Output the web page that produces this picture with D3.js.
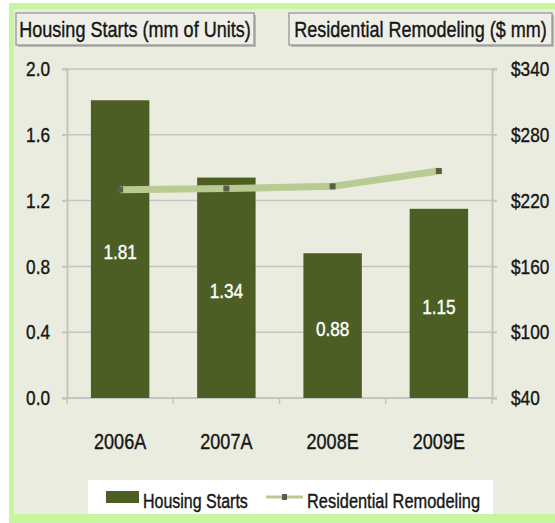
<!DOCTYPE html>
<html>
<head>
<meta charset="utf-8">
<script src="https://cdn.jsdelivr.net/npm/d3@7"></script>
<style>
  body { margin: 0; background: #ffffff; }
  text { font-family: "Liberation Sans", Arial, sans-serif; stroke-width: 0.4px; }
</style>
</head>
<body>
<div id="dataviz"></div>
<script>
// data
var years = ["2006A", "2007A", "2008E", "2009E"];
var housingStarts = [1.81, 1.34, 0.88, 1.15];
var remodeling = [230, 231, 233, 247];
var leftTicks = [0, 0.4, 0.8, 1.2, 1.6, 2.0];
var rightTicks = [40, 100, 160, 220, 280, 340];

var width = 555,
    height = 523;

// squeeze text horizontally, the original uses a narrow font
var squeeze = 0.82;
function narrow(sel) {
  sel.each(function() {
    var t = d3.select(this);
    var xx = +t.attr("x") || 0, yy = +t.attr("y") || 0;
    t.attr("x", 0).attr("y", 0)
     .attr("transform", "translate(" + xx + "," + yy + ") scale(" + squeeze + ",1)");
  });
}

var svg = d3.select("#dataviz")
  .append("svg")
  .attr("width", width)
  .attr("height", height);

// frame: lime border + pale panel
svg.append("rect").attr("x", 9).attr("y", 3).attr("width", width - 9).attr("height", height - 3)
  .attr("fill", "#c8f5a0");
svg.append("rect").attr("x", 14).attr("y", 9).attr("width", width - 14).attr("height", 505)
  .attr("fill", "#e9ecdf");

// plot area
var plotLeft = 67, plotRight = 492, plotTop = 69, plotBottom = 398;

var x = d3.scaleBand()
  .domain(years)
  .range([plotLeft, plotRight])
  .paddingInner(0.45)
  .paddingOuter(0.225);

var y = d3.scaleLinear().domain([0, 2]).range([plotBottom, plotTop]);
var y2 = d3.scaleLinear().domain([40, 340]).range([plotBottom, plotTop]);

var gridColor = "#c3c5c0";
var ink = "#161616";

// horizontal gridlines (one per left tick)
svg.selectAll(".grid")
  .data(leftTicks)
  .enter()
  .append("line")
    .attr("x1", plotLeft - 5)
    .attr("x2", plotRight + 5)
    .attr("y1", function(d) { return y(d); })
    .attr("y2", function(d) { return y(d); })
    .attr("stroke", gridColor)
    .attr("stroke-width", 1.5);

// left axis
var yAxis = svg.append("g")
  .attr("transform", "translate(" + plotLeft + ",0)")
  .call(d3.axisLeft(y).tickValues(leftTicks).tickFormat(d3.format(".1f")).tickSize(5).tickPadding(12));

// right axis
var y2Axis = svg.append("g")
  .attr("transform", "translate(" + plotRight + ",0)")
  .call(d3.axisRight(y2).tickValues(rightTicks).tickFormat(function(d) { return "$" + d; }).tickSize(5).tickPadding(14));

[yAxis, y2Axis].forEach(function(a) {
  a.select(".domain").attr("stroke", gridColor).attr("stroke-width", 2);
  a.selectAll(".tick line").attr("stroke", gridColor).attr("stroke-width", 1.5);
  a.selectAll(".tick text").attr("fill", ink).attr("stroke", ink).style("font-size", "21px")
    .style("font-family", "Liberation Sans, Arial, sans-serif").call(narrow);
});

// bottom axis: ticks on category boundaries
var boundaries = d3.range(years.length + 1).map(function(i) { return plotLeft + i * x.step(); });
svg.append("line")
  .attr("x1", plotLeft - 5).attr("x2", plotRight + 5)
  .attr("y1", plotBottom).attr("y2", plotBottom)
  .attr("stroke", gridColor).attr("stroke-width", 2);
svg.selectAll(".btick")
  .data(boundaries)
  .enter()
  .append("line")
    .attr("x1", function(d) { return d; })
    .attr("x2", function(d) { return d; })
    .attr("y1", plotBottom)
    .attr("y2", plotBottom + 6)
    .attr("stroke", gridColor)
    .attr("stroke-width", 1.5);

svg.selectAll(".xlabel")
  .data(years)
  .enter()
  .append("text")
    .attr("x", function(d) { return x(d) + x.bandwidth() / 2; })
    .attr("y", 449)
    .attr("text-anchor", "middle")
    .style("font-size", "22px")
    .attr("fill", ink).attr("stroke", ink)
    .text(function(d) { return d; })
    .call(narrow);

// bars
svg.selectAll(".bar")
  .data(housingStarts)
  .enter()
  .append("rect")
    .attr("x", function(d, i) { return x(years[i]); })
    .attr("y", function(d) { return y(d); })
    .attr("width", x.bandwidth())
    .attr("height", function(d) { return plotBottom - y(d); })
    .attr("fill", "#4c5e24");

// bar value labels
svg.selectAll(".barlabel")
  .data(housingStarts)
  .enter()
  .append("text")
    .attr("x", function(d, i) { return x(years[i]) + x.bandwidth() / 2; })
    .attr("y", function(d) { return (y(d) + plotBottom) / 2 + 3; })
    .attr("dy", "0.35em")
    .attr("text-anchor", "middle")
    .attr("fill", "#ffffff").attr("stroke", "#ffffff")
    .style("font-size", "21px")
    .text(function(d) { return d.toFixed(2); })
    .call(narrow);

// remodeling line
var line = d3.line()
  .x(function(d, i) { return x(years[i]) + x.bandwidth() / 2; })
  .y(function(d) { return y2(d); });

svg.append("path")
  .datum(remodeling)
  .attr("d", line)
  .attr("fill", "none")
  .attr("stroke", "#b9cb92")
  .attr("stroke-width", 7);

svg.selectAll(".marker")
  .data(remodeling)
  .enter()
  .append("rect")
    .attr("x", function(d, i) { return x(years[i]) + x.bandwidth() / 2 - 3; })
    .attr("y", function(d) { return y2(d) - 3; })
    .attr("width", 6)
    .attr("height", 6)
    .attr("fill", "#5a5e48");

// title boxes
function titleBox(x0, w, label) {
  svg.append("rect")
    .attr("x", x0 + 2).attr("y", 15).attr("width", w).attr("height", 32)
    .attr("fill", "#b9bbb2");
  svg.append("rect")
    .attr("x", x0).attr("y", 13).attr("width", w).attr("height", 32)
    .attr("fill", "#eef0e8")
    .attr("stroke", "#8e918a")
    .attr("stroke-width", 1.2);
  svg.append("text")
    .attr("x", x0 + w / 2).attr("y", 37)
    .attr("text-anchor", "middle")
    .style("font-size", "22px")
    .attr("fill", ink).attr("stroke", ink)
    .text(label)
    .call(narrow);
}
titleBox(16, 238, "Housing Starts (mm of Units)");
titleBox(289, 263, "Residential Remodeling ($ mm)");

// legend
svg.append("rect")
  .attr("x", 88).attr("y", 480).attr("width", 405).attr("height", 34)
  .attr("fill", "#ffffff");
svg.append("rect")
  .attr("x", 106).attr("y", 491).attr("width", 33).attr("height", 12)
  .attr("fill", "#4c5e24");
svg.append("text")
  .attr("x", 143).attr("y", 508)
  .style("font-size", "19.5px")
  .attr("fill", ink).attr("stroke", ink)
  .text("Housing Starts")
  .call(narrow);
svg.append("line")
  .attr("x1", 266).attr("x2", 303).attr("y1", 497).attr("y2", 497)
  .attr("stroke", "#b9cb92").attr("stroke-width", 3);
svg.append("rect")
  .attr("x", 282).attr("y", 494).attr("width", 5).attr("height", 6)
  .attr("fill", "#5a5e48");
svg.append("text")
  .attr("x", 307).attr("y", 508)
  .style("font-size", "20px")
  .attr("fill", ink).attr("stroke", ink)
  .text("Residential Remodeling")
  .call(narrow);
</script>
</body>
</html>
